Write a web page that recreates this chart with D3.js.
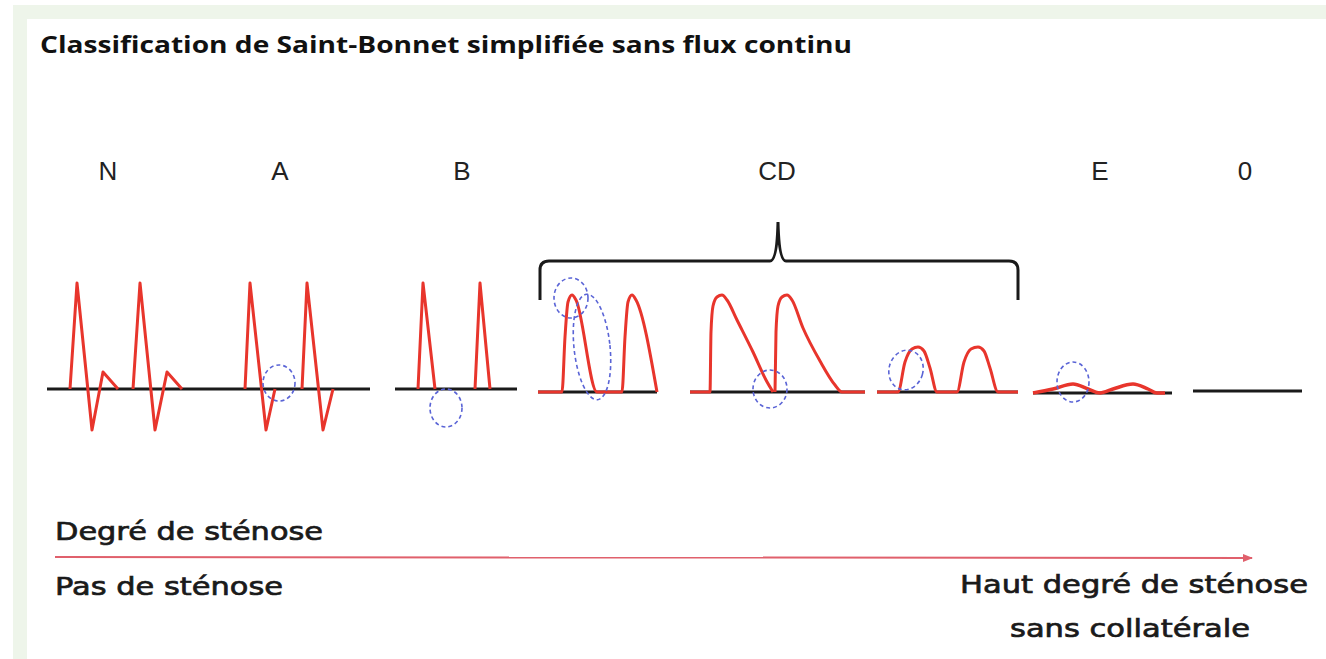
<!DOCTYPE html>
<html><head><meta charset="utf-8">
<script src="https://cdn.jsdelivr.net/npm/d3@7"></script>
<style>html,body{margin:0;padding:0;background:#fff;}svg{display:block;}</style>
</head><body>
<script>
// ---------- DATA ----------
const title = "Classification de Saint-Bonnet simplifiée sans flux continu";
const categories = ["N", "A", "B", "CD", "E", "0"];
const panelNames = ["N", "A", "B", "CD1", "CD2", "CD3", "E", "0"];
// waveform points per panel: [relative time, amplitude]; null = gap
const waveN = [[23,0],[30,1.06],[45,-0.41],[56,0.17],[71,0],null,[86,0],[93,1.06],[108,-0.41],[120,0.17],[135,0]];
const waveA = [[27,0],[32,1.06],[48,-0.41],[57,0],null,[84,0],[89,1.06],[105,-0.41],[115,0]];
const waveB = [[23,0],[28,1.06],[40,0],null,[80,0],[85,1.06],[95,0]];
const waveCD1 = [[0,0],[24,0],[27,0.55],[30,0.9],[34,0.97],[38,0.92],[59,0],[84,0],[87,0.55],[90,0.9],[94,0.97],[98,0.92],[119,0]];
const waveCD2 = [[0,0],[20,0],[21,0.6],[23,0.86],[27,0.95],[32,0.97],[37,0.92],[47,0.72],[63,0.40],[76,0.12],[83,0],null,
                 [85,0],[86,0.6],[88,0.86],[92,0.95],[97,0.97],[102,0.92],[113,0.64],[130,0.31],[145,0.07],[152,0],[175,0]];
const waveCD3 = [[0,0],[21,0],[28,0.3],[35,0.43],[41,0.45],[47,0.41],[53,0.24],[60,0],[80,0],[87,0.3],[94,0.43],[101,0.45],[107,0.41],[113,0.24],[121,0],[141,0]];
const waveE = [[0,0],[20,0.04],[40,0.09],[55,0.04],[67,0],[80,0.04],[100,0.09],[115,0.04],[124,0],[132,0]];
const wave0 = [];
// dashed markers: [panel, time, amplitude, half-width (time), half-height (amplitude), tilt deg]
const markers = [
  ["A", 61, 0.06, 16, 0.18, 0],
  ["B", 51, -0.19, 16, 0.19, 0],
  ["CD1", 33, 0.94, 17, 0.20, 0],
  ["CD1", 54, 0.45, 18, 0.53, -6],
  ["CD2", 80, 0.03, 17, 0.19, 0],
  ["CD3", 29, 0.22, 17, 0.20, 15],
  ["E", 40, 0.11, 16, 0.20, 0]
];
const axisLabels = ["Degré de sténose", "Pas de sténose", "Haut degré de sténose", "sans collatérale"];

// ---------- LAYOUT ----------
const W = 1326, H = 659;
const panelLayout = { // [x start, x end, baseline y]
  "N":[47,218,389], "A":[218,370,389], "B":[395,517,389],
  "CD1":[538,657,392], "CD2":[690,865,392], "CD3":[877,1018,392],
  "E":[1033,1172,393], "0":[1193,1302,391]
};
const waves = {"N":waveN,"A":waveA,"B":waveB,"CD1":waveCD1,"CD2":waveCD2,"CD3":waveCD3,"E":waveE,"0":wave0};
const catX = [108, 280, 462, 777, 1100, 1245];
const AMP_PX = 100;

const svg = d3.select("body").append("svg").attr("width", W).attr("height", H);
svg.append("rect").attr("x",13).attr("y",5).attr("width",W-13).attr("height",H-5).attr("fill","#eef5ea");
svg.append("rect").attr("x",27).attr("y",19).attr("width",W-27).attr("height",H-19).attr("fill","#ffffff");

svg.append("text").attr("x",40).attr("y",53).text(title)
  .attr("font-family","'Open Sans', sans-serif").attr("font-weight",700).attr("font-size",23)
  .attr("textLength",812).attr("lengthAdjust","spacingAndGlyphs").attr("fill","#111");

svg.selectAll("text.cat").data(categories).join("text").attr("class","cat")
  .attr("x",(d,i)=>catX[i]).attr("y",180).attr("text-anchor","middle")
  .attr("font-family","'Liberation Sans', Arial, sans-serif").attr("font-size",26).attr("fill","#222")
  .text(d=>d);

// bracket for CD
const bx0 = 540, bx1 = 1018, by = 261, btip = 222, bmid = 778, bbot = 300;
const bp = d3.path();
bp.moveTo(bx0,bbot); bp.lineTo(bx0,by+9); bp.quadraticCurveTo(bx0,by,bx0+9,by);
bp.lineTo(bmid-8,by); bp.quadraticCurveTo(bmid-1,by,bmid,btip); bp.quadraticCurveTo(bmid+1,by,bmid+8,by);
bp.lineTo(bx1-9,by); bp.quadraticCurveTo(bx1,by,bx1,by+9); bp.lineTo(bx1,bbot);
svg.append("path").attr("d",bp.toString()).attr("fill","none").attr("stroke","#1a1a1a").attr("stroke-width",3);

const scales = {};
panelNames.forEach(p => {
  const [x0,x1,base] = panelLayout[p];
  const x = d3.scaleLinear().domain([0, x1-x0]).range([x0, x1]);
  const y = d3.scaleLinear().domain([0, 1]).range([base, base-AMP_PX]);
  scales[p] = {x, y};
  const g = svg.append("g");
  g.append("line").attr("x1",x(0)).attr("x2",x(x1-x0)).attr("y1",y(0)).attr("y2",y(0))
    .attr("stroke","#1a1a1a").attr("stroke-width",3);
  const smooth = p.startsWith("CD") || p === "E";
  const line = d3.line().defined(d=>d!==null).x(d=>x(d[0])).y(d=>y(d[1]))
    .curve(smooth ? d3.curveMonotoneX : d3.curveLinear);
  if (waves[p].length)
    g.append("path").attr("d",line(waves[p])).attr("fill","none").attr("stroke","#e8352c")
      .attr("stroke-width", p==="E"?3.5:3).attr("stroke-linejoin","round");
});

svg.selectAll("ellipse.mk").data(markers).join("ellipse").attr("class","mk")
  .each(function(d){
    const s = scales[d[0]];
    const cx = s.x(d[1]), cy = s.y(d[2]);
    const rx = s.x(d[3]) - s.x(0), ry = s.y(0) - s.y(d[4]);
    d3.select(this).attr("cx",cx).attr("cy",cy).attr("rx",rx).attr("ry",ry)
      .attr("transform",`rotate(${d[5]},${cx},${cy})`);
  })
  .attr("fill","none").attr("stroke","#5a64d6").attr("stroke-width",1.6).attr("stroke-dasharray","4,3");

// progression arrow
const defs = svg.append("defs");
defs.append("marker").attr("id","ah").attr("viewBox","0 0 10 10").attr("refX",9).attr("refY",5)
  .attr("markerWidth",5).attr("markerHeight",5).attr("orient","auto")
  .append("path").attr("d","M0,1 L10,5 L0,9 z").attr("fill","#e0606c");
svg.append("line").attr("x1",55).attr("x2",1252).attr("y1",557).attr("y2",558)
  .attr("stroke","#e0606c").attr("stroke-width",2).attr("marker-end","url(#ah)");

const txt = [
  [axisLabels[0], 55, 540, 268],
  [axisLabels[1], 55, 595, 228],
  [axisLabels[2], 960, 593, 348],
  [axisLabels[3], 1010, 637, 240]
];
svg.selectAll("text.lab").data(txt).join("text").attr("class","lab")
  .attr("x",d=>d[1]).attr("y",d=>d[2]).attr("textLength",d=>d[3]).attr("lengthAdjust","spacingAndGlyphs")
  .attr("font-family","'DejaVu Sans', Verdana, sans-serif").attr("font-size",25).attr("fill","#1a1a1a")
  .attr("stroke","#1a1a1a").attr("stroke-width",0.7)
  .text(d=>d[0]);
</script>
</body></html>
